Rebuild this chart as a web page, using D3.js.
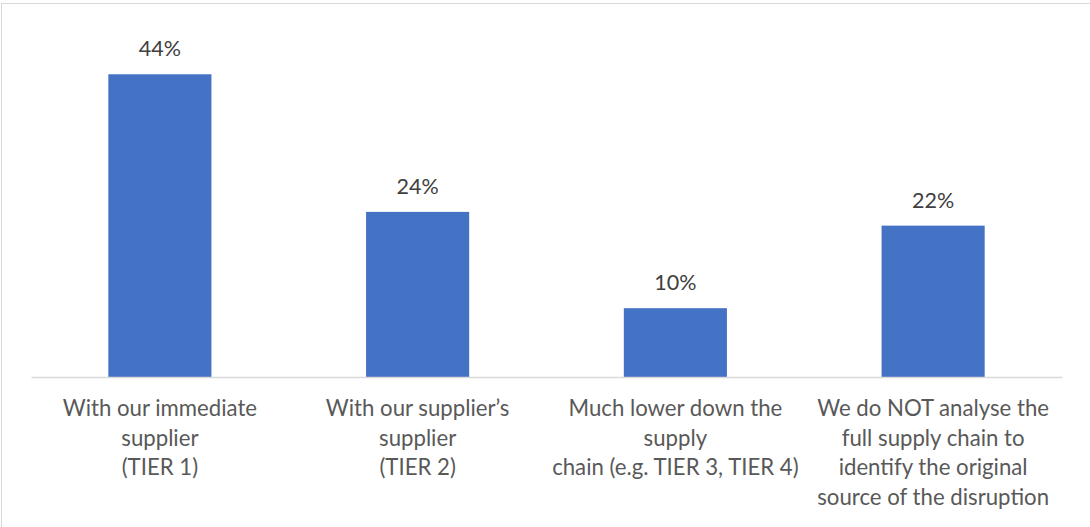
<!DOCTYPE html>
<html>
<head>
<meta charset="utf-8">
<script src="https://cdn.jsdelivr.net/npm/d3@7"></script>
<style>
  html, body { margin: 0; padding: 0; background: #fff; }
  svg { display: block; }
  text { font-family: Lato, "Open Sans", sans-serif; }
</style>
</head>
<body>
<svg id="chart" width="1090" height="527"></svg>
<script>
// Where the original source of a supply disruption is traced (share of respondents)
const categories = [
  ["With our immediate", "supplier", "(TIER 1)"],
  ["With our supplier\u2019s", "supplier", "(TIER 2)"],
  ["Much lower down the", "supply", "chain (e.g. TIER 3, TIER 4)"],
  ["We do NOT analyse the", "full supply chain to", "identify the original", "source of the disruption"]
];
const values = [44, 24, 10, 22];
const valueLabels = ["44%", "24%", "10%", "22%"];

const W = 1090, H = 527;
const svg = d3.select("#chart");

// chart area frame
svg.append("rect")
  .attr("x", 1.5).attr("y", 3.5)
  .attr("width", W + 10).attr("height", H + 10)
  .attr("fill", "#fff").attr("stroke", "#d9d9d9").attr("stroke-width", 1);

const plot = { left: 31, right: 1062, top: 33, bottom: 377 };

const x = d3.scaleBand()
  .domain(d3.range(categories.length))
  .range([plot.left, plot.right])
  .paddingInner(0.6)
  .paddingOuter(0.3);

const y = d3.scaleLinear()
  .domain([0, 50])
  .range([plot.bottom, plot.top]);

// bars
svg.append("g").selectAll("rect")
  .data(values)
  .join("rect")
  .attr("x", (d, i) => x(i))
  .attr("y", d => y(d))
  .attr("width", x.bandwidth())
  .attr("height", d => y(0) - y(d))
  .attr("fill", "#4472c4");

// category axis
const xAxis = svg.append("g")
  .attr("transform", `translate(0,${plot.bottom})`)
  .call(d3.axisBottom(x).tickSize(0).tickFormat(""));
xAxis.select(".domain").attr("stroke", "#d9d9d9").attr("stroke-width", 1.5);

// multi-line category labels
xAxis.selectAll(".tick").each(function (d) {
  const t = d3.select(this).append("text")
    .attr("text-anchor", "middle")
    .attr("fill", "#595959")
    .attr("font-size", "22.2px")
    .attr("y", 39);
  categories[d].forEach((line, k) => {
    t.append("tspan")
      .attr("x", 0)
      .attr("dy", k === 0 ? 0 : 29.5)
      .text(line);
  });
});

// value labels
svg.append("g").selectAll("text")
  .data(values)
  .join("text")
  .attr("x", (d, i) => x(i) + x.bandwidth() / 2)
  .attr("y", d => y(d) - 18)
  .attr("text-anchor", "middle")
  .attr("fill", "#404040")
  .attr("font-size", "21.5px")
  .text((d, i) => valueLabels[i]);
</script>
</body>
</html>
